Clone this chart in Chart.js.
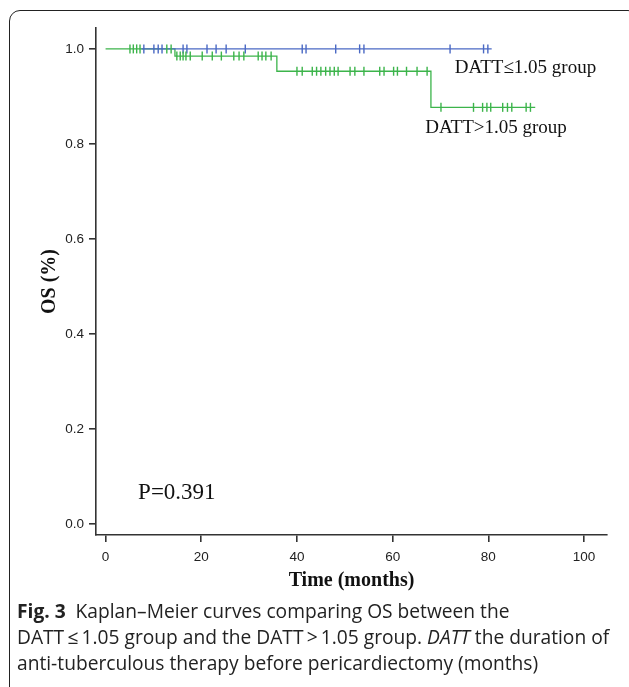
<!DOCTYPE html>
<html>
<head>
<meta charset="utf-8">
<script src="https://cdn.jsdelivr.net/npm/chart.js@4.4.0/dist/chart.umd.min.js"></script>
<style>
  html, body { margin: 0; padding: 0; background: #fff; width: 629px; height: 687px; overflow: hidden; }
  #frame {
    position: absolute; left: 9px; top: 10px; width: 630px; height: 690px;
    border: 1px solid #222; border-radius: 11px; box-sizing: border-box;
  }
  #holder { position: absolute; left: 0; top: 0; width: 629px; height: 600px; }
  #caption {
    position: absolute; left: 17px; top: 598px; width: 612px; white-space: nowrap;
    font-family: "Open Sans", "Noto Sans", sans-serif; font-size: 19.2px; line-height: 26px; color: #222;
  }
  #caption b { font-weight: bold; }
</style>
</head>
<body>
<div id="frame"></div>
<div id="holder"><canvas id="km"></canvas></div>
<div id="caption"><b>Fig. 3</b>&nbsp; Kaplan–Meier curves comparing OS between the<br>DATT&thinsp;≤&thinsp;1.05 group and the DATT&thinsp;&gt;&thinsp;1.05 group. <i>DATT</i> the duration of<br>anti-tuberculous therapy before pericardiectomy (months)</div>
<script>
// Kaplan-Meier steps (months, survival)
const greenTimes = [0, 14.5, 35.8, 68.0, 89.8];
const greenSurv = [1.0, 0.985, 0.953, 0.877, 0.877];
const blueTimes = [7.5, 80.7];
const blueSurv = [1.0, 1.0];

// censored cases (months)
const greenCensor = [5.1, 5.8, 6.5, 7.2, 12.8, 13.7,
  14.9, 15.6, 16.2, 16.8, 17.7, 20.2, 22.3, 24.2, 26.8, 27.9, 28.9, 31.9, 32.7, 33.5, 34.6,
  40.0, 41.1, 43.2, 44.1, 45.0, 46.0, 46.9, 47.8, 48.6, 51.1, 52.1, 54.0, 57.3, 58.2, 60.2, 61.0, 62.9, 65.1, 67.2,
  70.1, 76.9, 78.8, 79.7, 80.5, 83.0, 84.0, 84.9, 87.9, 88.8];
const blueCensor = [8.0, 10.1, 11.0, 11.8, 16.2, 17.0, 21.2, 23.1, 25.2, 29.2,
  41.1, 41.9, 48.1, 53.1, 54.0, 72.0, 79.0, 79.9];

const xTicks = [0, 20, 40, 60, 80, 100];
const yTicks = [0.0, 0.2, 0.4, 0.6, 0.8, 1.0];

const notes = [
  { text: "DATT\u22641.05 group", x: 73.0, y: 0.960, size: 19 },
  { text: "DATT>1.05 group", x: 66.8, y: 0.834, size: 19 },
  { text: "P=0.391", x: 6.8, y: 0.066, size: 23 }
];

const blue = "#4a69c4";
const green = "#3cb44b";

function stepPoints(times, surv) {
  return times.map((t, i) => ({ x: t, y: surv[i] }));
}
function survAt(times, surv, t) {
  let s = surv[0];
  for (let i = 0; i < times.length; i++) {
    if (times[i] <= t) s = surv[i];
  }
  return s;
}
function censorPoints(c, times, surv) {
  return c.map(t => ({ x: t, y: survAt(times, surv, t) }));
}

const notePlugin = {
  id: "notes",
  afterDatasetsDraw(chart) {
    const ctx = chart.ctx;
    const xs = chart.scales.x, ys = chart.scales.y;
    ctx.save();
    ctx.fillStyle = "#111";
    ctx.textBaseline = "middle";
    ctx.textAlign = "left";
    notes.forEach(n => {
      ctx.font = n.size + "px 'Liberation Serif', 'Times New Roman', serif";
      ctx.fillText(n.text, xs.getPixelForValue(n.x), ys.getPixelForValue(n.y));
    });
    ctx.restore();
  }
};

const axisColor = "#333";
const tickFont = { family: "'Liberation Sans', Arial, sans-serif", size: 13.5 };
const titleFont = { family: "'Liberation Serif', 'Times New Roman', serif", size: 20, weight: "bold" };

new Chart(document.getElementById("km"), {
  type: "scatter",
  data: {
    datasets: [
      { label: "DATT>1.05", data: censorPoints(greenCensor, greenTimes, greenSurv), order: 1,
        pointStyle: "line", rotation: 90, pointRadius: 4.5, borderColor: green, borderWidth: 1.4, showLine: false },
      { label: "DATT<=1.05", data: censorPoints(blueCensor, blueTimes, blueSurv), order: 2,
        pointStyle: "line", rotation: 90, pointRadius: 4.5, borderColor: blue, borderWidth: 1.4, showLine: false },
      { label: "blue", data: stepPoints(blueTimes, blueSurv), order: 3,
        showLine: true, stepped: true, pointRadius: 0, borderColor: blue, borderWidth: 1.3 },
      { label: "green", data: stepPoints(greenTimes, greenSurv), order: 4,
        showLine: true, stepped: true, pointRadius: 0, borderColor: green, borderWidth: 1.3 }
    ]
  },
  options: {
    responsive: true,
    maintainAspectRatio: false,
    animation: false,
    events: [],
    layout: { padding: { left: 0, top: 28, right: 22, bottom: 0 } },
    plugins: { legend: { display: false }, tooltip: { enabled: false } },
    scales: {
      x: {
        type: "linear", min: -2, max: 104.8,
        afterFit(s) { s.height = 65; },
        afterBuildTicks(s) { s.ticks = xTicks.map(v => ({ value: v })); },
        border: { display: true, color: axisColor, width: 1.6 },
        grid: { drawOnChartArea: false, drawTicks: true, tickLength: 7, color: axisColor, lineWidth: 1.6 },
        ticks: { color: "#222", font: tickFont, padding: 7, maxRotation: 0 },
        title: { display: true, text: "Time (months)", color: "#111", font: titleFont, padding: { top: 0, bottom: 7 } }
      },
      y: {
        type: "linear", min: -0.023, max: 1.044,
        afterFit(s) { s.width = 96; },
        afterBuildTicks(s) { s.ticks = yTicks.map(v => ({ value: v })); },
        border: { display: true, color: axisColor, width: 1.6 },
        grid: { drawOnChartArea: false, drawTicks: true, tickLength: 7, color: axisColor, lineWidth: 1.6 },
        ticks: { color: "#222", font: tickFont, padding: 5, callback: v => v.toFixed(1) },
        title: { display: true, text: "OS (%)", color: "#111", font: titleFont, padding: { top: 38, bottom: 0 } }
      }
    }
  },
  plugins: [notePlugin]
});
</script>
</body>
</html>
